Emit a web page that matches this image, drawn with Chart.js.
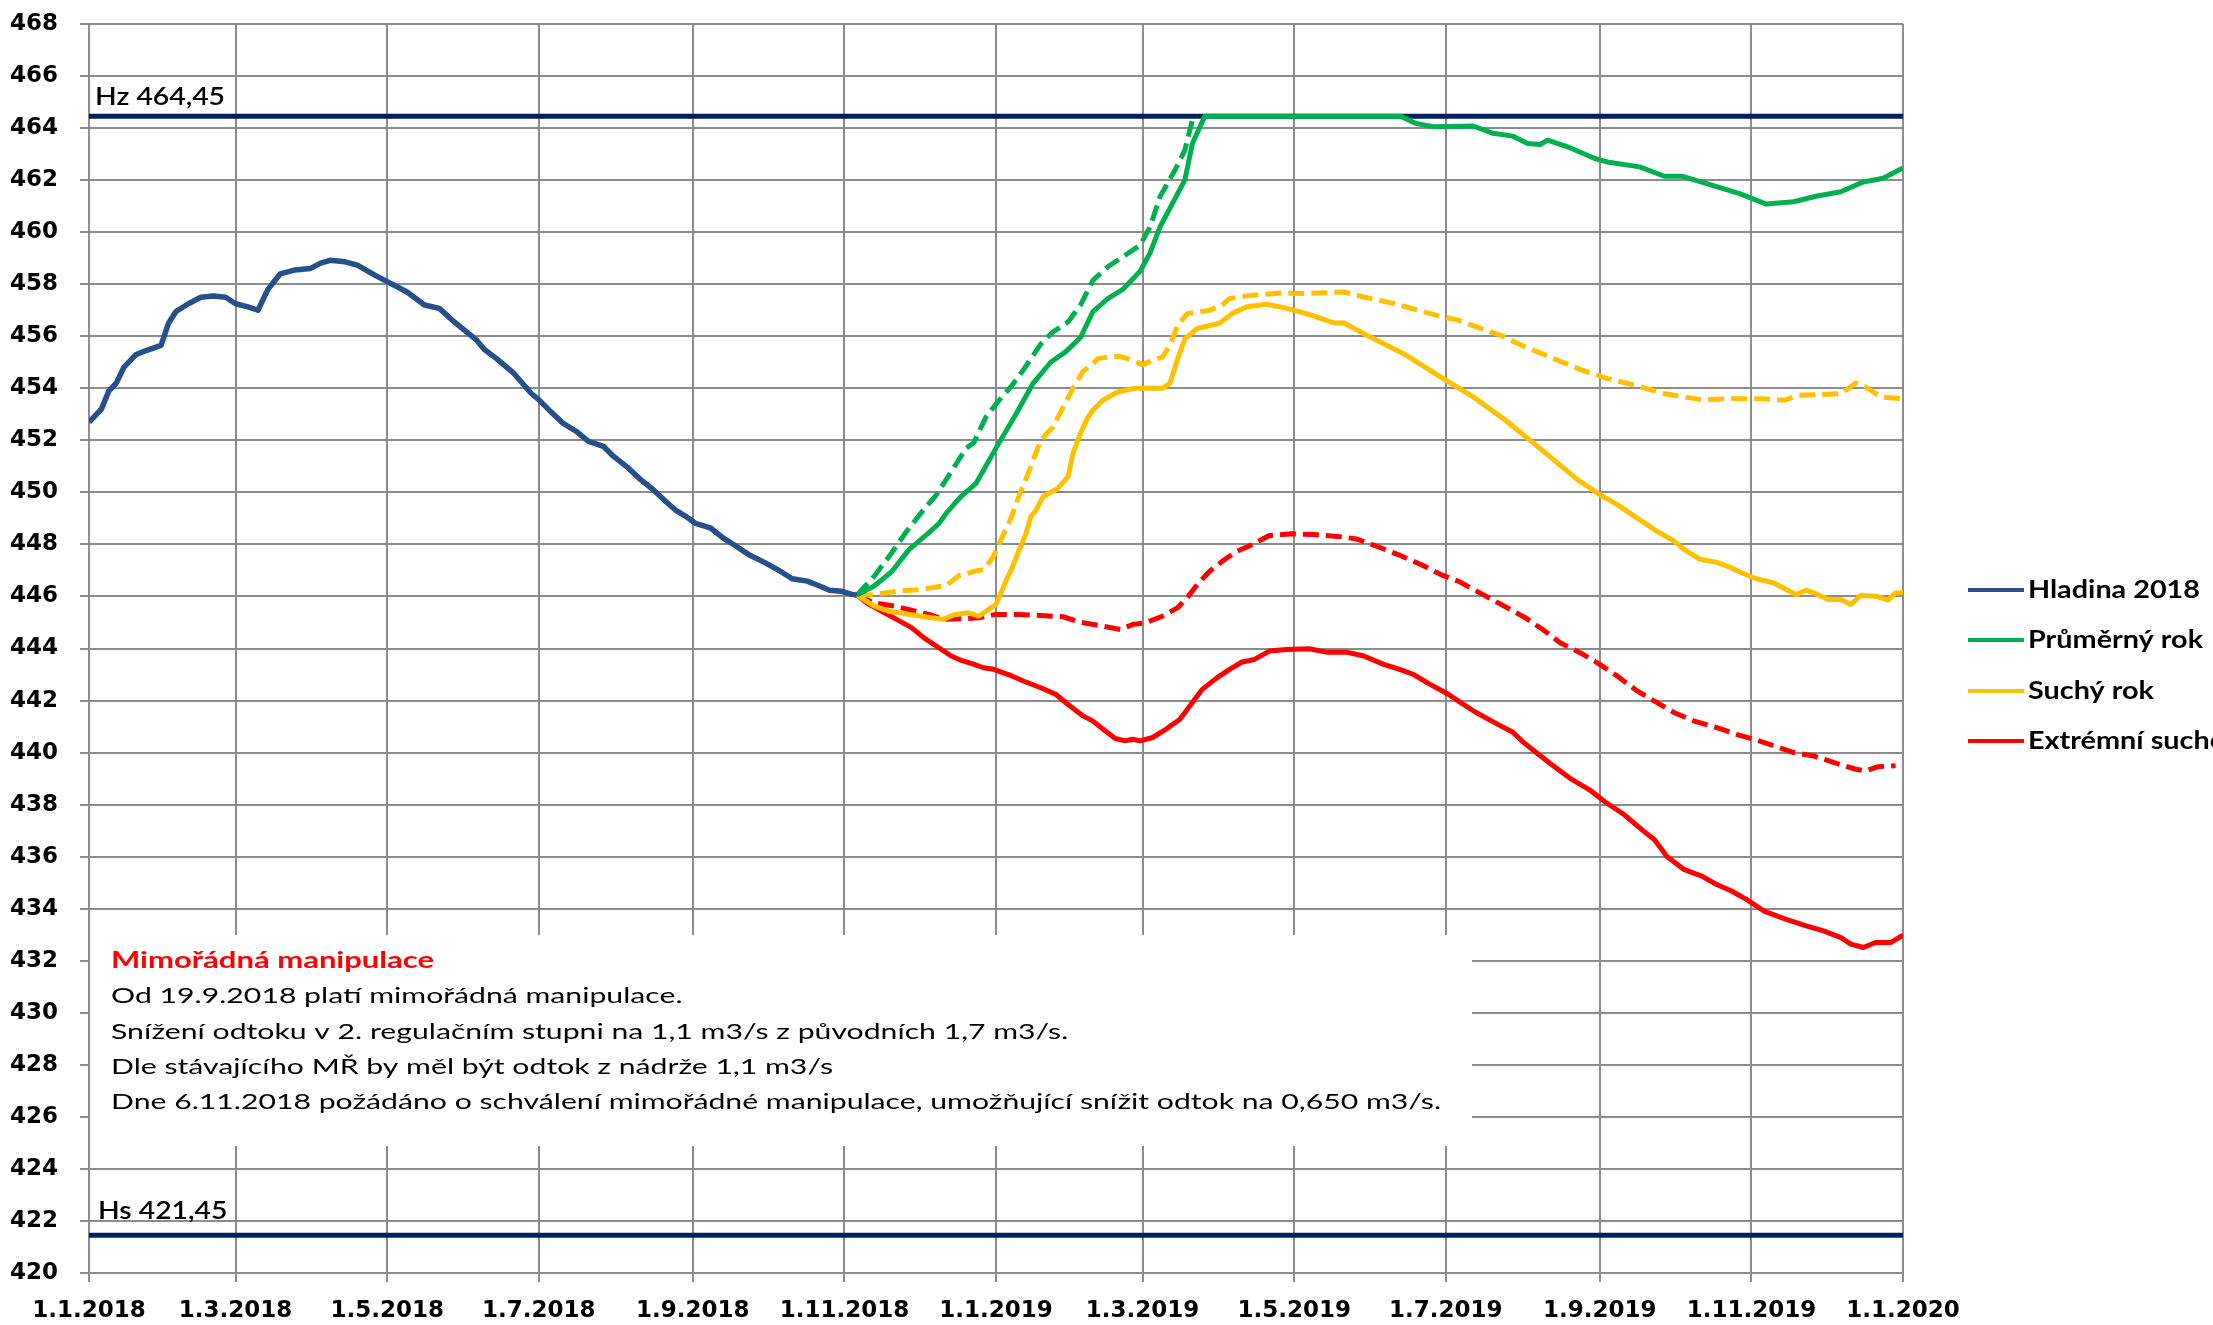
<!DOCTYPE html>
<html>
<head>
<meta charset="utf-8">
<script src="https://cdn.jsdelivr.net/npm/chart.js@4.4.1/dist/chart.umd.min.js"></script>
<style>
html,body{margin:0;padding:0;background:#fff;overflow:hidden}
#wrap{width:2213px;height:1325px;position:relative}
</style>
</head>
<body>
<div id="wrap"><canvas id="c"></canvas></div>
<script>
// ---------- DATA (x = days since 1.1.2018) ----------
const xTickDays = [0, 59, 120, 181, 243, 304, 365, 424, 485, 546, 608, 669, 730];
const xTickLabels = ['1.1.2018','1.3.2018','1.5.2018','1.7.2018','1.9.2018','1.11.2018','1.1.2019','1.3.2019','1.5.2019','1.7.2019','1.9.2019','1.11.2019','1.1.2020'];

const seriesLabels = ['Hladina 2018', 'Průměrný rok', 'Suchý rok', 'Extrémní sucho'];

const hzLevel = 464.45;
const hsLevel = 421.45;
const hzText = 'Hz 464,45';
const hsText = 'Hs 421,45';

const hladinaDays = [0,5,8,11,14,19,23,29,32,35,40,45,50,55,59,64,68,72,77,83,89,93,97,103,108,115,120,128,135,141,147,156,159,164,171,178,181,185,191,196,201,207,211,217,222,227,232,236,240,244,250,255,260,266,272,278,283,289,294,298,303,307,309];
const hladinaValues = [452.7,453.2,453.9,454.2,454.8,455.3,455.45,455.65,456.5,456.95,457.25,457.5,457.55,457.5,457.25,457.13,457.0,457.8,458.4,458.55,458.6,458.8,458.92,458.86,458.73,458.35,458.1,457.7,457.2,457.07,456.55,455.85,455.5,455.14,454.57,453.8,453.56,453.18,452.64,452.35,451.96,451.77,451.39,450.94,450.49,450.11,449.66,449.32,449.09,448.81,448.64,448.26,447.96,447.58,447.3,446.98,446.68,446.59,446.4,446.24,446.2,446.08,446.05];

const prumernyDays = [309,316,323,330,338,342,345,351,357,365,373,380,387,393,399,404,410,416,423,427,431,436,441,444,449,528,534,541,557,565,573,579,584,587,595,606,611,624,634,641,653,664,675,686,695,705,714,722,730];
const prumernyValues = [446.05,446.4,446.95,447.8,448.45,448.8,449.2,449.85,450.35,451.7,453.0,454.2,455.0,455.4,455.95,456.95,457.45,457.8,458.5,459.2,460.2,461.1,462.0,463.4,464.45,464.45,464.18,464.05,464.08,463.8,463.69,463.41,463.37,463.54,463.28,462.83,462.7,462.51,462.15,462.15,461.81,461.49,461.08,461.17,461.38,461.55,461.93,462.07,462.47];

const prumernyAltDays = [309,316,323,329,336,341,343,349,353,356,361,365,371,376,383,388,394,399,404,410,416,423,427,431,437,441,444,446];
const prumernyAltValues = [446.05,446.78,447.67,448.5,449.35,449.9,450.2,451.1,451.7,451.9,452.9,453.4,454.06,454.7,455.7,456.17,456.55,457.2,458.15,458.67,459.05,459.5,460.2,461.36,462.38,463.15,464.3,464.45];

const suchyDays = [309,316,322,331,339,344,348,354,358,362,365,367,369,371,374,377,379,381,384,390,394,396,399,402,404,408,414,421,432,435,438,441,446,455,460,466,474,482,490,501,505,513,529,544,557,570,584,599,608,615,622,627,631,638,642,648,655,660,665,671,678,683,687,691,694,700,705,709,713,719,724,727,730];
const suchyValues = [446.05,445.63,445.43,445.3,445.18,445.12,445.3,445.37,445.24,445.5,445.7,446.13,446.6,447.0,447.7,448.4,449.07,449.3,449.84,450.16,450.61,451.5,452.27,452.9,453.16,453.54,453.86,454.0,454.0,454.19,455.1,455.9,456.3,456.5,456.87,457.13,457.23,457.07,456.87,456.51,456.51,456.1,455.33,454.43,453.67,452.77,451.68,450.49,449.91,449.53,449.08,448.76,448.5,448.12,447.8,447.44,447.31,447.14,446.91,446.68,446.52,446.27,446.07,446.24,446.14,445.88,445.88,445.69,446.04,446.01,445.86,446.14,446.14];

const suchyAltDays = [309,316,325,335,345,350,357,360,364,367,371,374,377,379,383,388,390,396,400,404,406,411,415,420,424,428,432,435,438,442,451,456,459,468,480,488,505,513,525,542,551,560,568,578,591,601,611,622,634,649,662,673,682,688,705,711,715,721,730];
const suchyAltValues = [446.05,446.07,446.2,446.27,446.42,446.8,446.98,447.03,447.54,448.18,449.0,449.8,450.5,450.99,452.01,452.52,452.9,454.0,454.65,454.95,455.14,455.21,455.23,455.08,454.9,455.08,455.2,455.65,456.4,456.87,457.0,457.2,457.45,457.58,457.66,457.64,457.7,457.51,457.26,456.81,456.62,456.3,456.04,455.59,455.08,454.69,454.37,454.12,453.79,453.56,453.6,453.6,453.54,453.73,453.79,454.2,454.05,453.67,453.6];

const extremniDays = [309,313,319,325,331,336,342,347,351,355,360,364,370,376,383,389,394,400,404,409,413,417,420,423,428,433,439,443,448,454,459,464,469,475,482,491,498,506,513,521,528,533,539,547,552,558,566,573,577,582,588,596,604,610,618,625,630,635,642,649,655,661,667,674,683,691,698,705,709,714,719,725,730];
const extremniValues = [446.05,445.75,445.43,445.12,444.8,444.41,444.03,443.71,443.54,443.43,443.26,443.2,443.0,442.75,442.49,442.24,441.85,441.41,441.21,440.83,440.54,440.45,440.51,440.45,440.58,440.87,441.28,441.79,442.43,442.88,443.2,443.48,443.58,443.9,443.96,443.99,443.86,443.86,443.71,443.39,443.18,443.0,442.66,442.24,441.92,441.55,441.13,440.78,440.41,440.03,439.58,439.01,438.56,438.11,437.6,437.03,436.65,436.01,435.5,435.25,434.93,434.68,434.36,433.91,433.59,433.34,433.15,432.89,432.64,432.51,432.7,432.7,432.98];

const extremniAltDays = [309,316,324,331,338,344,351,358,365,374,383,392,399,406,415,420,425,432,438,442,446,451,457,462,468,475,484,493,504,510,519,527,536,544,551,561,572,578,585,592,600,607,615,623,631,638,646,655,663,670,678,686,694,702,711,715,720,727];
const extremniAltValues = [446.05,445.75,445.63,445.47,445.31,445.12,445.14,445.18,445.31,445.31,445.27,445.22,445.01,444.89,444.73,444.92,444.99,445.24,445.56,445.95,446.46,446.97,447.42,447.74,447.99,448.34,448.41,448.38,448.29,448.21,447.9,447.6,447.23,446.84,446.59,446.07,445.5,445.18,444.73,444.22,443.84,443.45,442.94,442.37,441.92,441.53,441.21,440.96,440.7,440.51,440.26,440.0,439.87,439.62,439.36,439.3,439.46,439.49];

const noteTitle = 'Mimořádná manipulace';
const noteLines = [
  'Od 19.9.2018 platí mimořádná manipulace.',
  'Snížení odtoku v 2. regulačním stupni na 1,1 m3/s z původních 1,7 m3/s.',
  'Dle stávajícího MŘ by měl být odtok z nádrže 1,1 m3/s',
  'Dne 6.11.2018 požádáno o schválení mimořádné manipulace, umožňující snížit odtok na 0,650 m3/s.'
];

// ---------- helpers ----------
const pts = (d, v) => d.map((x, i) => ({x: x, y: v[i]}));
const BLUE = '#25508a', GREEN = '#00b050', YELLOW = '#ffc000', RED = '#ff0000', NAVY = '#002060', GRID = '#8c8c8c';
const DASH = [16, 7];

function lineDs(label, data, color, width, dash, order) {
  return {label, data, borderColor: color, backgroundColor: color, borderWidth: width,
    borderDash: dash || [], pointRadius: 0, pointHoverRadius: 0, tension: 0, fill: false,
    borderJoinStyle: 'round', borderCapStyle: 'butt', order};
}

const datasets = [
  lineDs(seriesLabels[0], pts(hladinaDays, hladinaValues), BLUE, 5.5, null, 0),
  lineDs(seriesLabels[1], pts(prumernyDays, prumernyValues), GREEN, 5, null, 1),
  lineDs(seriesLabels[2], pts(suchyDays, suchyValues), YELLOW, 5, null, 3),
  lineDs(seriesLabels[3], pts(extremniDays, extremniValues), RED, 5, null, 5),
  lineDs('', pts(prumernyAltDays, prumernyAltValues), GREEN, 5, DASH, 2),
  lineDs('', pts(suchyAltDays, suchyAltValues), YELLOW, 5, DASH, 4),
  lineDs('', pts(extremniAltDays, extremniAltValues), RED, 5, DASH, 6),
  lineDs('', pts([xTickDays[0], xTickDays[xTickDays.length-1]], [hzLevel, hzLevel]), NAVY, 5, null, 10),
  lineDs('', pts([xTickDays[0], xTickDays[xTickDays.length-1]], [hsLevel, hsLevel]), NAVY, 5, null, 10)
];

function stretchText(ctx, text, x, y, sx) {
  ctx.save();
  ctx.translate(x, y);
  ctx.scale(sx, 1);
  ctx.fillText(text, 0, 0);
  ctx.restore();
}

const BOX = {left: 90, top: 935, right: 1472, bottom: 1146};

const decorPlugin = {
  id: 'decor',
  beforeDatasetsDraw(chart) {
    const ctx = chart.ctx;
    ctx.save();
    ctx.fillStyle = '#ffffff';
    ctx.fillRect(BOX.left, BOX.top, BOX.right - BOX.left, BOX.bottom - BOX.top);
    ctx.restore();
  },
  afterDatasetsDraw(chart) {
    const ctx = chart.ctx;
    const y = chart.scales.y;
    ctx.save();
    ctx.fillStyle = '#000';
    ctx.textBaseline = 'alphabetic';
    ctx.textAlign = 'left';
    // level labels
    ctx.font = '600 24px Lato';
    const lw = ctx.measureText(hzText).width;
    const lsx = 130 / lw;
    stretchText(ctx, hzText, 95, y.getPixelForValue(hzLevel) - 11, lsx);
    stretchText(ctx, hsText, 98, y.getPixelForValue(hsLevel) - 16, lsx);

    // note text
    ctx.textBaseline = 'middle';
    ctx.font = 'bold 22px Lato';
    ctx.fillStyle = '#ff0000';
    const tsx = 323 / ctx.measureText(noteTitle).width;
    stretchText(ctx, noteTitle, 111, 961, tsx);
    ctx.font = '22px Lato';
    ctx.fillStyle = '#000';
    const nsx = 1330 / ctx.measureText(noteLines[3]).width;
    const rows = [996, 1032, 1067, 1102];
    noteLines.forEach((t, i) => stretchText(ctx, t, 111, rows[i], nsx));

    // legend
    ctx.font = 'bold 24px Lato';
    const gsx = 172 / ctx.measureText(seriesLabels[0]).width;
    const legY = [590, 640, 691, 741];
    for (let i = 0; i < 4; i++) {
      const ds = chart.data.datasets[i];
      ctx.strokeStyle = ds.borderColor;
      ctx.lineWidth = 4;
      ctx.setLineDash([]);
      ctx.beginPath();
      ctx.moveTo(1968, legY[i]);
      ctx.lineTo(2024, legY[i]);
      ctx.stroke();
      ctx.fillStyle = '#000';
      stretchText(ctx, ds.label, 2028, legY[i], gsx);
    }
    ctx.restore();
  }
};

Chart.defaults.font.family = 'DejaVu Sans';

new Chart(document.getElementById('c'), {
  type: 'line',
  data: {datasets},
  plugins: [decorPlugin],
  options: {
    responsive: true,
    maintainAspectRatio: false,
    animation: false,
    devicePixelRatio: 1,
    layout: {padding: {top: 24, right: 310, bottom: 0, left: 0}},
    plugins: {legend: {display: false}, tooltip: {enabled: false}},
    elements: {line: {tension: 0}},
    scales: {
      x: {
        type: 'linear', min: xTickDays[0], max: xTickDays[xTickDays.length - 1],
        afterBuildTicks: (s) => { s.ticks = xTickDays.map(v => ({value: v})); },
        afterFit: (s) => { s.height = 52; s.paddingLeft = 0; s.paddingRight = 0; s.paddingTop = 0; s.paddingBottom = 0; },
        ticks: {
          autoSkip: false, maxRotation: 0, minRotation: 0, padding: 15, color: '#000',
          font: {family: 'DejaVu Sans', size: 23, weight: 'bold'},
          callback: (v, i) => xTickLabels[i]
        },
        grid: {color: GRID, lineWidth: 2, tickLength: 9, drawTicks: true},
        border: {display: true, color: GRID, width: 2}
      },
      y: {
        min: 420, max: 468,
        afterFit: (s) => { s.width = 89; s.paddingTop = 0; s.paddingBottom = 0; s.paddingLeft = 0; s.paddingRight = 0; },
        ticks: {
          stepSize: 2, padding: 22, color: '#000',
          font: {family: 'DejaVu Sans', size: 23, weight: 'bold'},
          callback: (v) => String(v)
        },
        grid: {color: GRID, lineWidth: 2, tickLength: 9, drawTicks: true},
        border: {display: true, color: GRID, width: 2}
      }
    }
  }
});
</script>
</body>
</html>
